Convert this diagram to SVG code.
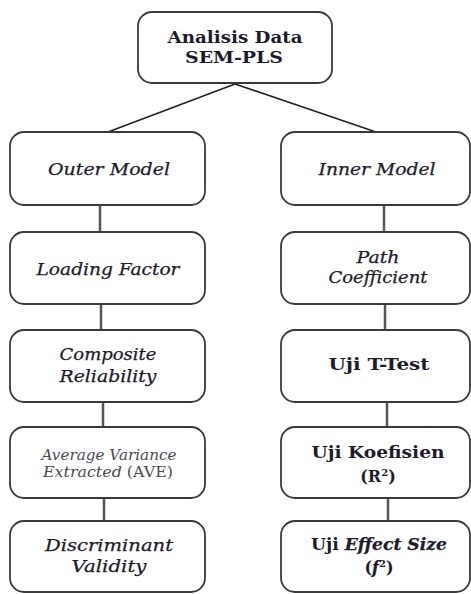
<svg xmlns="http://www.w3.org/2000/svg" width="471" height="594" viewBox="0 0 471 594">
<style>
.box{fill:#fff;stroke:#3a3a3a;stroke-width:1.8}
.t{font-family:"DejaVu Serif","Liberation Serif",serif;font-size:16px;fill:#1c1c2a;text-anchor:middle}
.i{font-style:italic;stroke:#1c1c2a;stroke-width:0.25}
.b{font-weight:bold}
.g{fill:#4a4a55;font-size:14px}
.g .i{stroke:none}
.v{stroke:#555;stroke-width:2.5;fill:none}
.d{stroke:#222;stroke-width:1.6;fill:none}
</style>
<rect width="471" height="594" fill="#fff"/>
<g id="connectors">
<line class="d" x1="235" y1="84" x2="108" y2="132"/>
<line class="d" x1="235" y1="84" x2="376" y2="132"/>
<line class="v" x1="100" y1="205" x2="100" y2="232"/>
<line class="v" x1="101" y1="304" x2="101" y2="330"/>
<line class="v" x1="103" y1="402" x2="103" y2="427"/>
<line class="v" x1="104" y1="498" x2="104" y2="521"/>
<line class="v" x1="384" y1="205" x2="384" y2="232"/>
<line class="v" x1="385" y1="304" x2="385" y2="330"/>
<line class="v" x1="387" y1="402" x2="387" y2="427"/>
<line class="v" x1="388" y1="498" x2="388" y2="521"/>
</g>
<g id="n-root">
<rect class="box" x="138" y="12" width="194" height="71" rx="14"/>
<text class="t b" x="235" y="43" textLength="135" lengthAdjust="spacingAndGlyphs">Analisis Data</text>
<text class="t b" x="234" y="63" textLength="98" lengthAdjust="spacingAndGlyphs">SEM-PLS</text>
</g>
<g id="n-outer">
<rect class="box" x="10" y="132" width="195" height="73" rx="14"/>
<text class="t i" x="109" y="175" textLength="122" lengthAdjust="spacingAndGlyphs">Outer Model</text>
</g>
<g id="n-loading">
<rect class="box" x="10" y="232" width="195" height="72" rx="14"/>
<text class="t i" x="108" y="275" textLength="143" lengthAdjust="spacingAndGlyphs">Loading Factor</text>
</g>
<g id="n-composite">
<rect class="box" x="10" y="330" width="195" height="72" rx="14"/>
<text class="t i" x="108" y="360" textLength="97" lengthAdjust="spacingAndGlyphs">Composite</text>
<text class="t i" x="108" y="382" textLength="97" lengthAdjust="spacingAndGlyphs">Reliability</text>
</g>
<g id="n-ave">
<rect class="box" x="10" y="427" width="195" height="71" rx="14"/>
<text class="t g" x="109" y="460"><tspan class="i" textLength="135" lengthAdjust="spacingAndGlyphs">Average Variance</tspan></text>
<text class="t g" x="108" y="477" textLength="130" lengthAdjust="spacingAndGlyphs"><tspan class="i">Extracted</tspan> (AVE)</text>
</g>
<g id="n-discriminant">
<rect class="box" x="10" y="521" width="195" height="71" rx="14"/>
<text class="t i" x="109" y="551" textLength="128" lengthAdjust="spacingAndGlyphs">Discriminant</text>
<text class="t i" x="109" y="572" textLength="75" lengthAdjust="spacingAndGlyphs">Validity</text>
</g>
<g id="n-inner">
<rect class="box" x="281" y="132" width="189" height="73" rx="14"/>
<text class="t i" x="377" y="175" textLength="117" lengthAdjust="spacingAndGlyphs">Inner Model</text>
</g>
<g id="n-path">
<rect class="box" x="281" y="232" width="189" height="72" rx="14"/>
<text class="t i" x="378" y="263" textLength="43" lengthAdjust="spacingAndGlyphs">Path</text>
<text class="t i" x="378" y="283" textLength="99" lengthAdjust="spacingAndGlyphs">Coefficient</text>
</g>
<g id="n-ttest">
<rect class="box" x="281" y="330" width="189" height="72" rx="14"/>
<text class="t b" x="379" y="370" textLength="101" lengthAdjust="spacingAndGlyphs">Uji T-Test</text>
</g>
<g id="n-koef">
<rect class="box" x="281" y="427" width="189" height="71" rx="14"/>
<text class="t b" x="378" y="458" textLength="133" lengthAdjust="spacingAndGlyphs">Uji Koefisien</text>
<text class="t b" x="378" y="482">(R<tspan font-size="10" dy="-6">2</tspan><tspan dy="6">)</tspan></text>
</g>
<g id="n-effect">
<rect class="box" x="281" y="521" width="189" height="71" rx="14"/>
<text class="t b" x="379" y="550" textLength="136" lengthAdjust="spacingAndGlyphs">Uji <tspan class="i" stroke="none">Effect Size</tspan></text>
<text class="t b" x="379" y="573">(<tspan class="i" stroke="none">f</tspan><tspan font-size="10" dy="-6">2</tspan><tspan dy="6">)</tspan></text>
</g>
</svg>
